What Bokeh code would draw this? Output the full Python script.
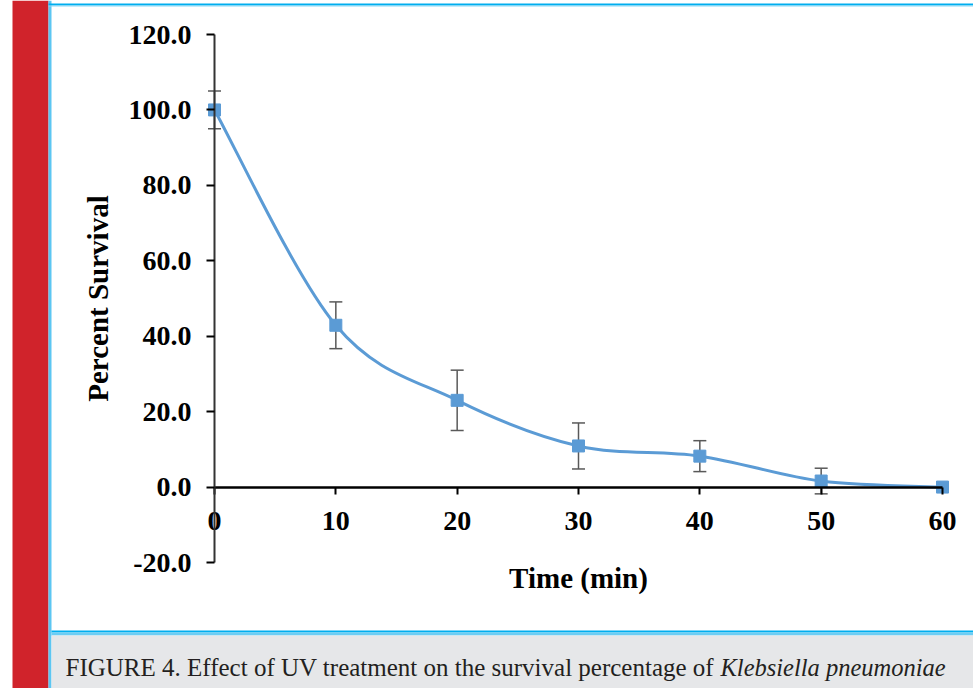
from bokeh.plotting import figure
from bokeh.models import (Range1d, FixedTicker, PrintfTickFormatter, Whisker, TeeHead,
                          ColumnDataSource, BoxAnnotation, Label)
from bokeh.embed import file_html
from bokeh.resources import INLINE

# ---- data ----
time_min = [0, 10, 20, 30, 40, 50, 60]
survival = [100.0, 42.9, 23.0, 10.9, 8.2, 1.6, 0.0]
error_sd = [5.0, 6.2, 8.0, 6.1, 4.1, 3.4, 0.0]
y_ticks = [-20, 0, 20, 40, 60, 80, 100, 120]
x_ticks = [0, 10, 20, 30, 40, 50, 60]
x_label = "Time (min)"
y_label = "Percent Survival"
caption_main = "FIGURE 4. Effect of UV treatment on the survival percentage of"
caption_italic = "Klebsiella pneumoniae"

BLUE = "#5B9BD5"
W, H = 973, 688

# layout: the plotting frame covers the whole canvas; data axes are placed inside it
X0_PX, X60_PX = 214.0, 942.0     # pixel columns of x = 0 and x = 60
Y120_PX, YM20_PX = 34.0, 562.0   # pixel rows of y = 120 and y = -20
sx = (X60_PX - X0_PX) / 60.0
sy = (YM20_PX - Y120_PX) / 140.0
x_start = -X0_PX / sx
x_end = x_start + W / sx
y_end = 120 + Y120_PX / sy
y_start = y_end - H / sy

p = figure(width=W, height=H, output_backend="svg", toolbar_location=None,
           x_range=Range1d(x_start, x_end), y_range=Range1d(y_start, y_end),
           min_border=0)
p.min_border_left = 0
p.min_border_right = 0
p.min_border_top = 0
p.min_border_bottom = 0
p.background_fill_color = "white"
p.border_fill_color = "white"
p.outline_line_color = None
p.grid.visible = False

# ---- page decorations ----
def box(l, r, t, b, color):
    p.add_layout(BoxAnnotation(left=l, right=r, top=t, bottom=b,
                               left_units="canvas", right_units="canvas",
                               top_units="canvas", bottom_units="canvas",
                               fill_color=color, fill_alpha=1.0, line_color=None,
                               level="underlay"))

box(12, 48, 0, H, "#D0232B")         # red side bar
box(48, 51, 0, H, "#5CC6F2")         # left blue rule
box(48, W, 3, 5, "#00AEEF")          # top rule
box(48, W, 5, 6, "#8AD8F6")
box(51, W, 630, 632, "#00AEEF")      # caption rule
box(51, W, 632, 635, "#6CCDF4")
box(51, W, 635, H, "#E6E7E9")        # caption background

# ---- axes ----
FONT = "Liberation Serif"
for ax in (p.xaxis[0], p.yaxis[0]):
    ax.major_label_text_font = FONT
    ax.major_label_text_font_style = "bold"
    ax.major_label_text_font_size = "28px"
    ax.major_label_text_color = "black"
    ax.axis_label_text_font = FONT
    ax.axis_label_text_font_style = "bold"
    ax.axis_label_text_font_size = "29px"
    ax.axis_label_text_color = "black"
    ax.minor_tick_line_color = None
    ax.major_tick_in = 0

p.xaxis.fixed_location = 0
p.yaxis.fixed_location = 0
p.xaxis.bounds = (0, 60)
p.yaxis.bounds = (-20, 120)
p.xaxis.ticker = FixedTicker(ticks=x_ticks)
p.yaxis.ticker = FixedTicker(ticks=y_ticks)
p.yaxis.formatter = PrintfTickFormatter(format="%.1f")
p.xaxis.axis_label = x_label
p.yaxis.axis_label = y_label
p.xaxis.axis_line_width = 2.5
p.xaxis.axis_line_color = "black"
p.xaxis.major_tick_line_width = 2
p.xaxis.major_tick_out = 7
p.xaxis.major_label_standoff = 18
p.xaxis.axis_label_standoff = 28
p.yaxis.axis_line_width = 2
p.yaxis.axis_line_color = "#333333"
p.yaxis.major_tick_line_width = 2
p.yaxis.major_tick_out = 8
p.yaxis.major_label_standoff = 15
p.yaxis.axis_label_standoff = 12

# ---- error bars ----
eb_t = [t for t, s in zip(time_min, error_sd) if s > 0]
eb_up = [v + s for v, s in zip(survival, error_sd) if s > 0]
eb_lo = [v - s for v, s in zip(survival, error_sd) if s > 0]
esrc = ColumnDataSource(dict(t=eb_t, up=eb_up, lo=eb_lo))
wk = Whisker(base="t", upper="up", lower="lo", source=esrc, dimension="height",
             line_color="#595959", line_width=1.5,
             upper_head=TeeHead(size=13, line_color="#595959", line_width=1.5),
             lower_head=TeeHead(size=13, line_color="#595959", line_width=1.5))
p.add_layout(wk)

# ---- smoothed line (Catmull-Rom style Bezier through the data points) ----
n = len(time_min)
x0, y0, x1, y1, cx0, cy0, cx1, cy1 = ([] for _ in range(8))
for i in range(n - 1):
    a = max(i - 1, 0)
    d = min(i + 2, n - 1)
    x0.append(time_min[i]); y0.append(survival[i])
    x1.append(time_min[i + 1]); y1.append(survival[i + 1])
    cx0.append(time_min[i] + (time_min[i + 1] - time_min[a]) / 6)
    cy0.append(survival[i] + (survival[i + 1] - survival[a]) / 6)
    cx1.append(time_min[i + 1] - (time_min[d] - time_min[i]) / 6)
    cy1.append(survival[i + 1] - (survival[d] - survival[i]) / 6)
p.bezier(x0=x0, y0=y0, x1=x1, y1=y1, cx0=cx0, cy0=cy0, cx1=cx1, cy1=cy1,
         line_color=BLUE, line_width=3)
p.scatter(time_min, survival, marker="square", size=12, fill_color=BLUE, line_color=BLUE)

# ---- caption ----
p.add_layout(Label(x=65, y=667, x_units="canvas", y_units="canvas", text=caption_main,
                   text_font=FONT, text_font_size="25px", text_color="#231F20",
                   text_baseline="alphabetic"))
p.add_layout(Label(x=720, y=667, x_units="canvas", y_units="canvas", text=caption_italic,
                   text_font=FONT, text_font_style="italic", text_font_size="24.5px",
                   text_color="#231F20", text_baseline="alphabetic"))

open("out.html", "w").write(file_html(p, INLINE))
